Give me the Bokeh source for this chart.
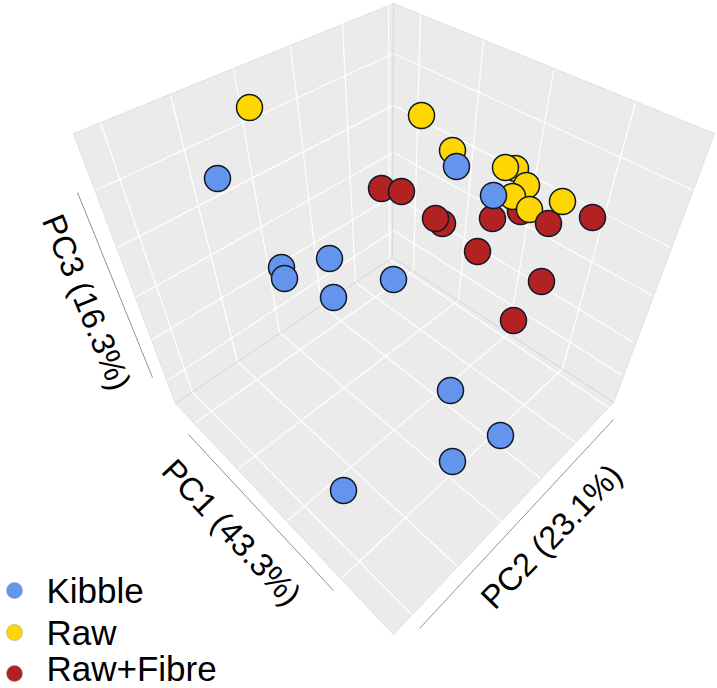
from bokeh.plotting import figure, ColumnDataSource
from bokeh.models import Range1d
from bokeh.core.properties import value
from bokeh.embed import file_html
from bokeh.resources import INLINE
import math

# Projected sample positions, back to front
point_x = [249,217,381,401,442,435,421,452,456,515,526,505,520,512,492,493,529,548,562,592,477,541,513,393,281,284,329,333,450,500,452,343]
point_y = [107,178,188,191,223,218,115,150,166,168,185,167,211,196,218,195,209,223,201,217,251,281,320,279,267,278,258,297,390,435,461,490]
point_group = ["Raw","Kibble","Raw+Fibre","Raw+Fibre","Raw+Fibre","Raw+Fibre","Raw","Raw","Kibble","Raw","Raw","Raw","Raw+Fibre","Raw","Raw+Fibre","Kibble","Raw","Raw+Fibre","Raw","Raw+Fibre","Raw+Fibre","Raw+Fibre","Raw+Fibre","Kibble","Kibble","Kibble","Kibble","Kibble","Kibble","Kibble","Kibble","Kibble"]
groups = ["Kibble","Raw","Raw+Fibre"]
group_colors = {"Kibble":"#6495ED","Raw":"#FFD700","Raw+Fibre":"#B22222"}
legend_y = [590,632,673]
legend_text_y = [590,632,668]

left_wall = [(393,3),(73,133),(175,403),(392,257)]
right_wall = [(393,3),(714,133),(613,402),(392,257)]
floor = [(392,257),(175,403),(393,634),(613,402)]

grid_segments = [
 ((100,122),(192,392)),((170,95),(237,361)),((233,68),(279,332)),((290,45),(321,305)),((342,24),(355,282)),((388,5),(389,259)),
 ((95,190),(393,53)),((117,247),(393,105)),((135,297),(393,152)),((150,340),(393,195)),((163,383),(393,230)),
 ((420,13),(413,270)),((483,40),(458,300)),((553,70),(508,333)),((635,102),(562,368)),
 ((393,53),(693,190)),((393,105),(670,247)),((393,152),(652,295)),((393,195),(633,342)),((393,230),(622,375)),
 ((192,392),(412,615)),((237,361),(458,567)),((279,332),(502,522)),((321,305),(540,478)),((355,282),(575,442)),((389,259),(608,407)),
 ((195,422),(413,270)),((238,468),(458,300)),((287,520),(508,333)),((342,577),(562,368)),
]
edge_segments = [((393,3),(392,257)),((392,257),(175,403)),((392,257),(613,402))]
axis_segments = [((77,192),(152,377)),((188,434),(333,590)),((613,419),(419,628))]
axis_labels = ["PC3 (16.3%)","PC1 (43.3%)","PC2 (23.1%)"]
label_x = [86,231,551]
label_y = [302,532,536]
label_angle = [-68,-47,46]

p = figure(width=717, height=688, output_backend="svg", toolbar_location=None,
           x_range=Range1d(0,717), y_range=Range1d(688,0),
           min_border=0)
p.axis.visible = False
p.grid.visible = False
p.outline_line_color = None
p.background_fill_color = "white"
p.border_fill_color = "white"

for poly in (left_wall, right_wall, floor):
    p.patch([a for a,b in poly],[b for a,b in poly], fill_color="#EBEBEB", line_color="#E0E0E0", line_width=1)

p.multi_line([[s[0][0],s[1][0]] for s in grid_segments],[[s[0][1],s[1][1]] for s in grid_segments], line_color="white", line_width=1.2)
p.multi_line([[s[0][0],s[1][0]] for s in edge_segments],[[s[0][1],s[1][1]] for s in edge_segments], line_color="#DADADA", line_width=1)
p.multi_line([[s[0][0],s[1][0]] for s in axis_segments],[[s[0][1],s[1][1]] for s in axis_segments], line_color="#777777", line_width=0.8)

src = ColumnDataSource(dict(x=point_x, y=point_y, c=[group_colors[g] for g in point_group]))
p.scatter("x","y",source=src,size=26,fill_color="c",line_color="#101828",line_width=1.5)

p.text(label_x,label_y,text=axis_labels,angle=[math.radians(a) for a in label_angle],
       text_font=value("Liberation Sans"),text_font_size="32.5px",text_align="center",text_baseline="middle",text_color="black")

p.scatter([14]*3,legend_y,size=16,fill_color=[group_colors[g] for g in groups],line_color="#999999",line_width=0.5)
p.text([46]*3,legend_text_y,text=groups,text_font=value("Liberation Sans"),text_font_size="35px",text_align="left",text_baseline="middle",text_color="black")

open("out.html","w").write(file_html(p, INLINE))
